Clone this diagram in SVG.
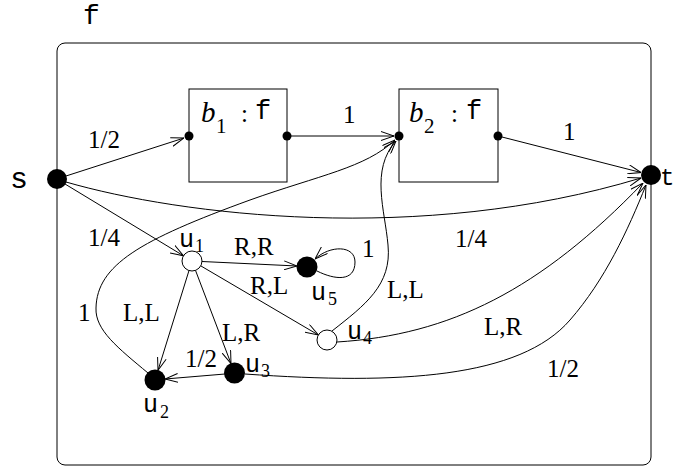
<svg xmlns="http://www.w3.org/2000/svg" width="676" height="467" viewBox="0 0 676 467">
<style>
.e{fill:none;stroke:#000;stroke-width:1;marker-end:url(#a)}
.n{fill:none;stroke:#000;stroke-width:1}
.lb{font-family:"Liberation Serif",serif;font-size:25px;fill:#000}
.sub{font-family:"Liberation Serif",serif;font-size:18px;fill:#000}
.mono{font-family:"Liberation Mono",monospace;fill:#000}
.fd{fill:#000}
.od{fill:#fff;stroke:#000;stroke-width:1}
</style>
<defs>
<marker id="a" markerUnits="userSpaceOnUse" viewBox="0 0 13 10" markerWidth="13" markerHeight="10" refX="13" refY="5" orient="auto">
<path d="M0,0.5 L13,5 L0,9.5" fill="none" stroke="#000" stroke-width="1"/>
</marker>
</defs>
<text class="mono" x="83" y="24" font-size="28">f</text>
<rect x="57" y="43" width="594" height="422" rx="8" class="n"/>
<g id="connectors">
<path class="e" d="M66,176 L184,138"/>
<path class="e" d="M291,136 L394,136"/>
<path class="e" d="M502,137 L641,172.5"/>
<path class="e" d="M66,182 C180,215 420,245 641,178"/>
<path class="e" d="M65,184 L183.5,255.8"/>
<path class="e" d="M202,261.5 L297,266"/>
<path class="e" d="M317,271 C335,280 355,282 355,262 C355,245 330,245 315,259"/>
<path class="e" d="M201,266 L318.4,335"/>
<path class="e" d="M189,270.5 L158,370.4"/>
<path class="e" d="M195.5,270.4 L231,363.6"/>
<path class="e" d="M225,374 L165,379"/>
<path class="e" d="M148,373 C118,348 95,330 96,308 C97,265 140,240 250,200 C320,175 365,168 395,140"/>
<path class="e" d="M332,331 C365,305 392,285 388,245 C385,210 370,170 396,141"/>
<path class="e" d="M337,342 C450,335 540,290 643,183"/>
<path class="e" d="M245,374 C400,385 520,378 570,320 C605,280 628,230 646,185"/>
</g>
<g id="labels">
<text class="lb" x="88" y="148">1/2</text>
<text class="lb" x="343" y="123">1</text>
<text class="lb" x="563" y="140">1</text>
<text class="lb" x="455" y="247">1/4</text>
<text class="lb" x="88" y="246">1/4</text>
<text class="lb" x="234" y="255">R,R</text>
<text class="lb" x="362" y="257" font-size="22">1</text>
<text class="lb" x="250" y="294">R,L</text>
<text class="lb" x="123" y="321">L,L</text>
<text class="lb" x="78" y="321">1</text>
<text class="lb" x="222" y="341">L,R</text>
<text class="lb" x="185" y="367">1/2</text>
<text class="lb" x="387" y="298">L,L</text>
<text class="lb" x="484" y="335">L,R</text>
<text class="lb" x="547" y="377">1/2</text>
</g>
<g id="s">
<circle class="fd" cx="57" cy="179" r="10"/>
<text class="mono" x="10" y="188" font-size="30">s</text>
</g>
<g id="t">
<circle class="fd" cx="651" cy="175" r="10"/>
<text class="mono" x="660" y="185" font-size="24">t</text>
</g>
<g id="b1">
<rect x="189" y="89" width="98" height="93" class="n"/>
<circle class="fd" cx="189" cy="136" r="4.5"/>
<circle class="fd" cx="287" cy="136" r="4.5"/>
<text x="201" y="122" font-family="Liberation Serif,serif" font-style="italic" font-size="29">b</text>
<text x="216" y="133" font-family="Liberation Serif,serif" font-size="21">1</text>
<text x="241" y="122" font-family="Liberation Serif,serif" font-size="25">:</text>
<text class="mono" x="255" y="119" font-size="27">f</text>
</g>
<g id="b2">
<rect x="399" y="89" width="99" height="93" class="n"/>
<circle class="fd" cx="399" cy="136" r="4.5"/>
<circle class="fd" cx="498" cy="136" r="4.5"/>
<text x="409" y="122" font-family="Liberation Serif,serif" font-style="italic" font-size="29">b</text>
<text x="424" y="133" font-family="Liberation Serif,serif" font-size="21">2</text>
<text x="451" y="122" font-family="Liberation Serif,serif" font-size="25">:</text>
<text class="mono" x="466" y="119" font-size="27">f</text>
</g>
<g id="u1">
<circle class="od" cx="192" cy="261" r="10"/>
<text class="mono" x="179" y="247" font-size="25">u</text>
<text class="sub" x="195" y="252">1</text>
</g>
<g id="u5">
<circle class="fd" cx="307" cy="267" r="10.5"/>
<text class="mono" x="311" y="300" font-size="25">u</text>
<text class="sub" x="328" y="305">5</text>
</g>
<g id="u4">
<circle class="od" cx="327" cy="340" r="10"/>
<text class="mono" x="347" y="339" font-size="25">u</text>
<text class="sub" x="363" y="344">4</text>
</g>
<g id="u3">
<circle class="fd" cx="234.5" cy="373" r="10.5"/>
<text class="mono" x="245" y="372" font-size="25">u</text>
<text class="sub" x="261" y="377">3</text>
</g>
<g id="u2">
<circle class="fd" cx="155" cy="380" r="10.5"/>
<text class="mono" x="143" y="412" font-size="25">u</text>
<text class="sub" x="160" y="418">2</text>
</g>
</svg>
